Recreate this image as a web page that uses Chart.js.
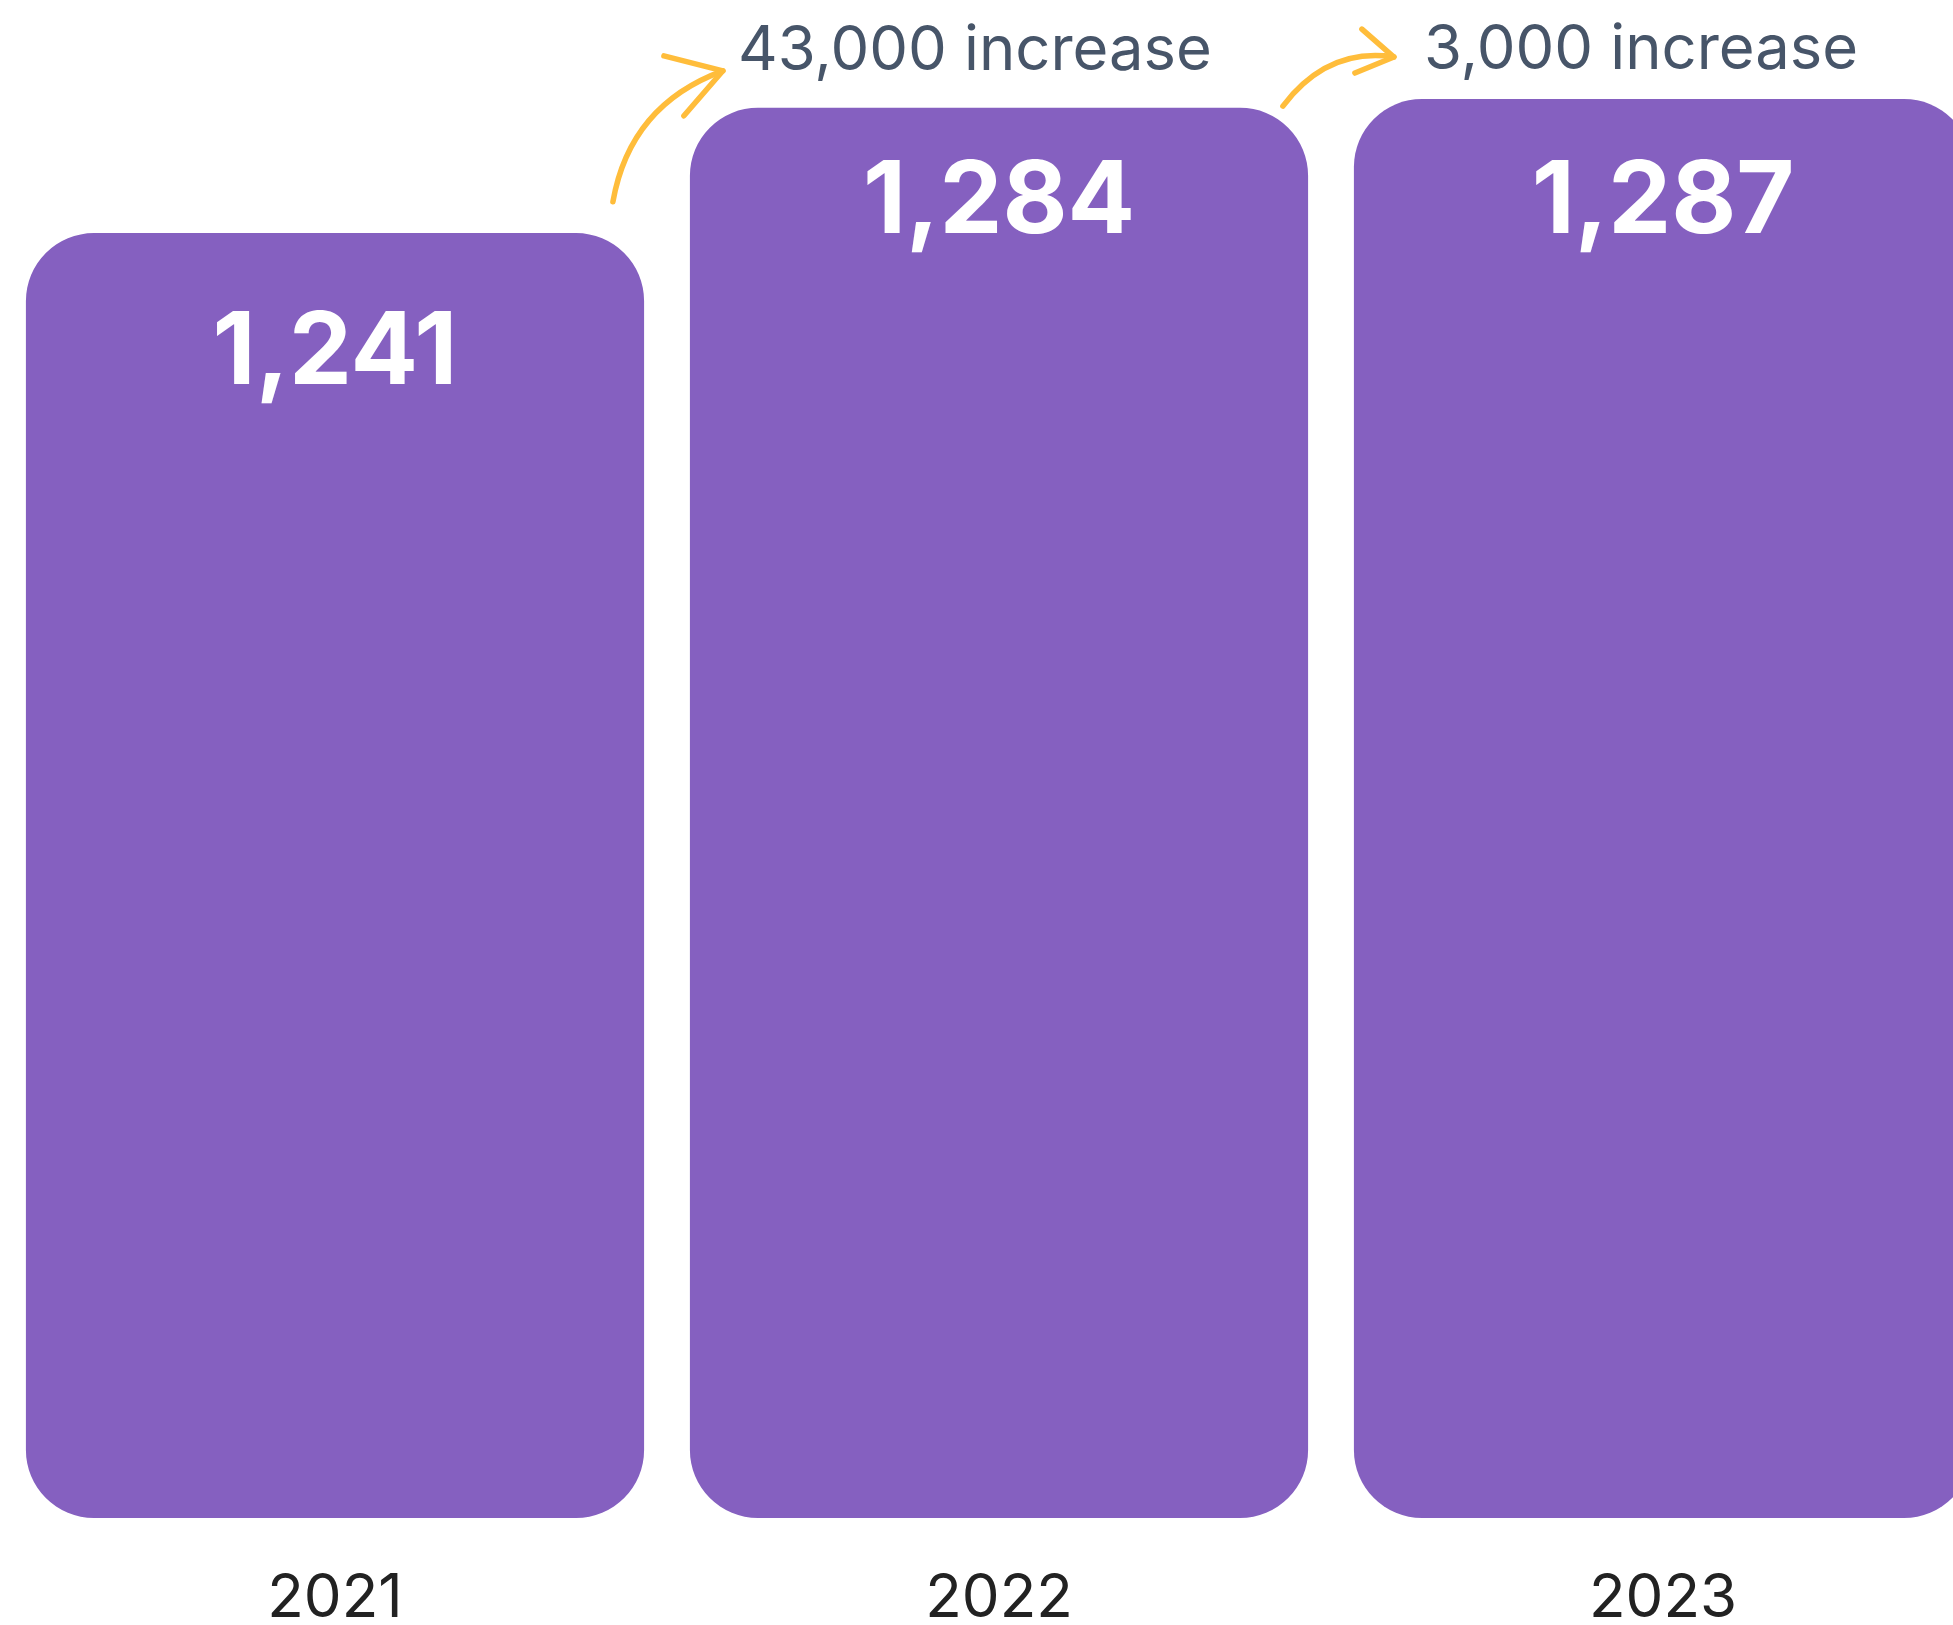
<!DOCTYPE html>
<html>
<head>
<meta charset="utf-8">
<script src="https://cdn.jsdelivr.net/npm/chart.js@4"></script>
<style>
  html, body { margin: 0; padding: 0; background: #fff; overflow: hidden; }
  #wrap { width: 1953px; height: 1625px; overflow: hidden; position: relative; }
  canvas { position: absolute; left: 0; top: 0; }
</style>
</head>
<body>
<div id="wrap"><canvas id="myChart" width="1995" height="1680"></canvas></div>
<script>
const years = ["2021", "2022", "2023"];
const counts = [1241, 1284, 1287];
const increaseNotes = ["43,000 increase", "3,000 increase"];
const axisMin = 800;
const axisMax = 1321;

// per-bar vertical offset of the value label (px below bar top)
const valueLabelOffset = [151, 125, 134];

const arrowColor = "#FFBD3B";

// arrow + note geometry, relative to the left/top of the bar it points at
const arrowShapes = [
    { start: [-77, 94], ctrl: [-60, -3], tip: [33, -37], h1: [-26, -52], h2: [-6, 8], text: [48, -38] },
    { start: [-71, 7], ctrl: [-26, -52], tip: [40, -42], h1: [8, -70], h2: [1, -26], text: [70, -30] },
];

const barDecor = {
    id: "barDecor",
    afterDatasetsDraw(chart) {
        const c = chart.ctx;
        const bars = chart.getDatasetMeta(0).data;
        c.save();
        c.fillStyle = "#ffffff";
        c.font = "bold 100px Inter";
        c.textAlign = "center";
        c.textBaseline = "alphabetic";
        bars.forEach((b, i) => {
            c.fillText(counts[i].toLocaleString("en-US"), b.x, b.y + valueLabelOffset[i]);
        });

        arrowShapes.forEach((a, i) => {
            const nb = bars[i + 1];
            const L = nb.x - nb.width / 2, T = nb.y;
            const p = (o) => [L + o[0], T + o[1]];
            const s = p(a.start), k = p(a.ctrl), t = p(a.tip), h1 = p(a.h1), h2 = p(a.h2);
            c.strokeStyle = arrowColor;
            c.lineWidth = 5.5;
            c.lineCap = "round";
            c.lineJoin = "round";
            c.beginPath();
            c.moveTo(s[0], s[1]);
            c.quadraticCurveTo(k[0], k[1], t[0], t[1]);
            c.stroke();
            c.beginPath();
            c.moveTo(h1[0], h1[1]);
            c.lineTo(t[0], t[1]);
            c.lineTo(h2[0], h2[1]);
            c.stroke();

            const tp = p(a.text);
            c.fillStyle = "#475569";
            c.font = "61.5px Inter";
            c.textAlign = "left";
            c.fillText(increaseNotes[i], tp[0], tp[1]);
        });
        c.restore();
    },
};

const ctx = document.getElementById("myChart").getContext("2d");
const myChart = new Chart(ctx, {
    type: "bar",
    data: {
        labels: years,
        datasets: [
            {
                data: counts,
                base: axisMin,
                backgroundColor: "#8560C0",
                borderRadius: { topLeft: 68, topRight: 68, bottomLeft: 68, bottomRight: 68 },
                borderSkipped: false,
                barPercentage: 0.931,
                categoryPercentage: 1,
            },
        ],
    },
    options: {
        responsive: false,
        animation: false,
        devicePixelRatio: 1,
        layout: { padding: { left: 3, right: 0, top: 0, bottom: 0 } },
        plugins: {
            legend: { display: false },
            tooltip: { enabled: false },
        },
        scales: {
            x: {
                grid: { display: false, drawTicks: false },
                border: { display: false },
                ticks: {
                    color: "#222222",
                    font: { family: "Inter", size: 60 },
                    padding: 45,
                },
            },
            y: {
                display: false,
                beginAtZero: false,
                min: axisMin,
                max: axisMax,
            },
        },
    },
    plugins: [barDecor],
});
</script>
</body>
</html>
